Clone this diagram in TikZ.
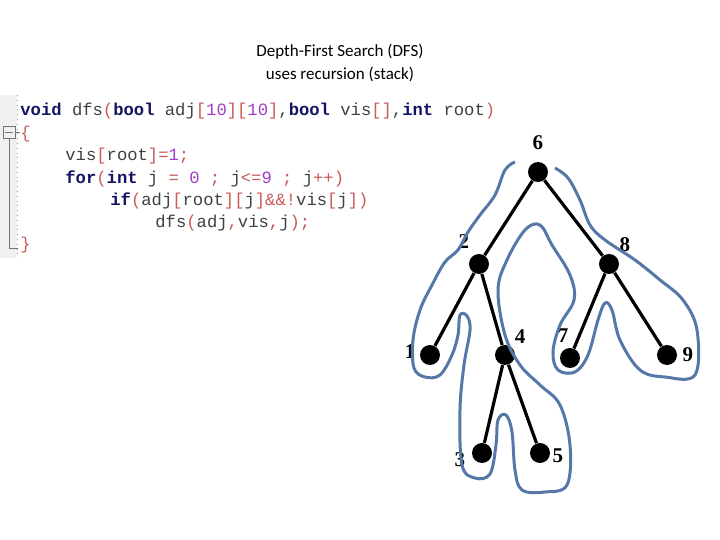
\documentclass[tikz,border=0pt]{standalone}
\usepackage{fontspec}
\setmainfont{Liberation Serif}
\newfontfamily\titlefont{Carlito}
\newfontfamily\codefont{Liberation Mono}
\begin{document}
\begin{tikzpicture}[x=0.5pt,y=-0.5pt,
  dot/.style={circle,fill=black,inner sep=0pt,minimum size=10pt},
  lbl/.style={font=\bfseries\fontsize{10.5}{12}\selectfont},
  edge/.style={line width=1.6pt},
  code/.style={anchor=base west,inner sep=0pt,font=\codefont\fontsize{8.6}{10}\selectfont,text=black!75},
  contour/.style={draw=blue1,line width=1.5pt,line join=round}]
\definecolor{blue1}{RGB}{85,120,168}
\definecolor{kw}{RGB}{20,20,100}
\definecolor{br}{RGB}{200,90,90}
\definecolor{nm}{RGB}{160,60,200}
\useasboundingbox (0,0) rectangle (720,540);
% title
\node[font=\titlefont\fontsize{8.5}{11.5}\selectfont,align=center] (title) at (340,63) {Depth-First Search (DFS)\\uses recursion (stack)};
% code gutter
\fill[black!6] (0,95) rectangle (17,258);
\draw[black!40,dotted] (17,95) -- (17,258);
\draw[black!55] (3,126) rectangle (15,138);
\draw[black!55] (5,132) -- (13,132);
\draw[black!55] (9,138) -- (9,248) -- (18,248);
\draw[black!55] (15,132) -- (20,132);
\newcommand{\K}[1]{\textcolor{kw}{\bfseries #1}}
\newcommand{\B}[1]{\textcolor{br}{#1}}
\newcommand{\N}[1]{\textcolor{nm}{#1}}
\node[code] (c1) at (20,116) {\K{void} dfs\B{(}\K{bool} adj\B{[}\N{10}\B{][}\N{10}\B{]},\K{bool} vis\B{[]},\K{int} root\B{)}};
\node[code] (c2) at (20,139) {\B{\{}};
\node[code] (c3) at (65,161) {vis\B{[}root\B{]=}\N{1}\B{;}};
\node[code] (c4) at (65,184) {\K{for}\B{(}\K{int} j \B{=} \N{0} \B{;} j\B{<=}\N{9} \B{;} j\B{++)}};
\node[code] (c5) at (110,206) {\K{if}\B{(}adj\B{[}root\B{][}j\B{]\&\&!}vis\B{[}j\B{])}};
\node[code] (c6) at (155,228) {dfs\B{(}adj\B{,}vis\B{,}j\B{);}};
\node[code] (c7) at (20,250) {\B{\}}};
% tree nodes
\node[dot] (n6) at (538,172) {};
\node[dot] (n2) at (479,264) {};
\node[dot] (n8) at (609,264) {};
\node[dot] (n1) at (430,355) {};
\node[dot] (n4) at (505,355) {};
\node[dot] (n7) at (570,358) {};
\node[dot] (n9) at (667,355) {};
\node[dot] (n3) at (482,453) {};
\node[dot] (n5) at (540,453) {};
\draw[edge] (n6) -- (n2);
\draw[edge] (n6) -- (n8);
\draw[edge] (n2) -- (n1);
\draw[edge] (n2) -- (n4);
\draw[edge] (n8) -- (n7);
\draw[edge] (n8) -- (n9);
\draw[edge] (n4) -- (n3);
\draw[edge] (n4) -- (n5);
% labels
\node[lbl] (l6) at (538,143) {6};
\node[lbl] (l2) at (464,242) {2};
\node[lbl] (l8) at (625,245) {8};
\node[lbl] (l1) at (410,352) {1};
\node[lbl] (l4) at (520,337) {4};
\node[lbl] (l7) at (563,336) {7};
\node[lbl] (l9) at (688,355) {9};
\node[lbl] (l3) at (460,460) {3};
\node[lbl] (l5) at (558,456) {5};
% contour
\draw[contour] plot[smooth,tension=0.6] coordinates {
 (515,162) (505,170) (495,195) (480,215) (468,232) (458,250) (445,262)
 (432,285) (420,310) (413,340) (414,368) (425,377) (440,375) (452,355)
 (458,335) (460,315) (467,316) (470,330) (464,365) (460,410) (462,465)
 (475,478) (490,474) (496,445) (498,420) (506,415) (512,432) (515,470)
 (522,490) (545,492) (567,485) (570,445) (560,405) (540,385) (520,365)
 (505,335) (498,290) (507,260) (525,230) (540,225) (552,245) (570,275)
 (574,300) (560,325) (553,352) (558,370) (575,372) (588,355) (598,320)
 (605,303) (612,310) (620,340) (640,370) (665,377) (695,375) (697,330)
 (683,300) (660,280) (635,260) (605,240) (590,225) (580,200) (568,178) (555,168)};
\end{tikzpicture}
\end{document}
